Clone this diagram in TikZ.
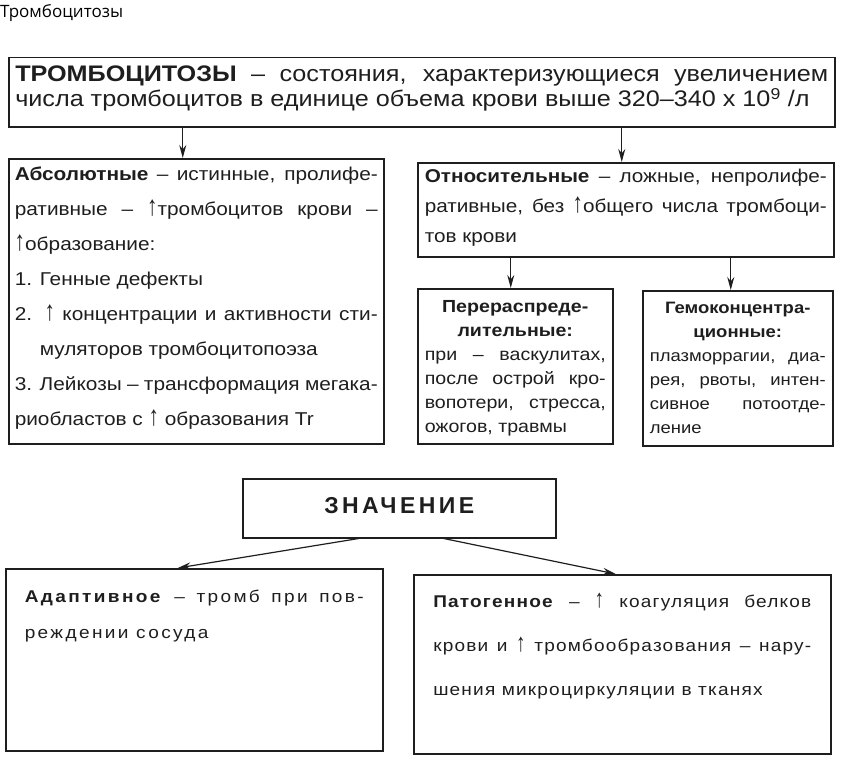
\documentclass[tikz,border=0pt]{standalone}
\usepackage{fontspec}
\usepackage{graphicx}
\setmainfont{Liberation Sans}
\newfontfamily\widefont[FakeStretch=1.12]{Liberation Sans}
\newfontfamily\headfont{Open Sans}
\usepackage{tikz}
\usetikzlibrary{arrows.meta, positioning}
\definecolor{inkcolor}{RGB}{30,30,30}
\newcommand{\upar}{\scalebox{1}[1.5]{↑}}

\begin{document}
\begin{tikzpicture}[x=1pt, y=-1pt,
  box/.style={rectangle, draw=inkcolor, line width=1.5pt, text=inkcolor,
              anchor=north west, inner ysep=0pt, align=justify},
  arrow/.style={-{Stealth[length=13pt, width=7pt]}, line width=1.2pt, draw=inkcolor}
]
\useasboundingbox (0,0) rectangle (845,768);

\node[anchor=base west, inner sep=0pt, font=\headfont\fontsize{17}{19}\selectfont]
  (title) at (0,18) {Тромбоцитозы};

\node[box, text width=813pt, inner xsep=6.5pt, text height=24pt, text depth=45pt,
      font=\widefont\fontsize{22.5}{25}\selectfont]
  (top) at (8,57)
  {\textbf{ТРОМБОЦИТОЗЫ} – состояния, характеризующиеся увеличением\linebreak
   числа тромбоцитов в единице объема крови выше 320–340 x 10\textsuperscript{9} /л};

\node[box, text width=363pt, inner xsep=6pt, text height=22pt, text depth=263pt,
      font=\widefont\fontsize{18.6}{35}\selectfont]
  (abs) at (8,158)
  {\textbf{Абсолютные} – истинные, пролифе-\linebreak
   ративные – \upar тромбоцитов крови –\linebreak
   \upar образование:\par
   1. Генные дефекты\par
   \hangindent=25pt\hangafter=1 2. \upar\ концентрации и активности сти-\linebreak
   муляторов тромбоцитопоэза\par
   \hangindent=25pt\hangafter=1 3. Лейкозы – трансформация мегака-\linebreak
   риобластов с \upar\ образования Tr};

\node[box, text width=402pt, inner xsep=7pt, text height=20pt, text depth=74pt,
      font=\widefont\fontsize{18.5}{30}\selectfont]
  (rel) at (417,162)
  {\textbf{Относительные} – ложные, непролифе-\linebreak
   ративные, без \upar общего числа тромбоци-\linebreak
   тов крови};

\node[box, text width=181pt, inner xsep=7pt, text height=24pt, text depth=131pt,
      font=\widefont\fontsize{17.5}{24}\selectfont]
  (redis) at (417,288)
  {{\centering\bfseries Перераспреде-\\лительные:\par}
   при – васкулитах,\linebreak
   после острой кро-\linebreak
   вопотери, стресса,\linebreak
   ожогов, травмы};

\node[box, text width=176pt, inner xsep=7pt, text height=23pt, text depth=132pt,
      font=\widefont\fontsize{16.5}{24}\selectfont]
  (hemo) at (642,290)
  {{\centering\bfseries Гемоконцентра-\\ционные:\par}
   плазморрагии, диа-\linebreak
   рея, рвоты, интен-\linebreak
   сивное потоотде-\linebreak
   ление};

\node[box, align=center, minimum width=313pt, text height=35pt, text depth=24pt,
      font=\bfseries\fontsize{23}{25}\selectfont\addfontfeature{LetterSpace=15}]
  (sig) at (242,478) {ЗНАЧЕНИЕ};

\node[box, text width=339pt, inner xsep=19pt, text height=34pt, text depth=148pt,
      font=\widefont\fontsize{17}{36}\selectfont\addfontfeature{LetterSpace=14}]
  (adapt) at (5,568)
  {\textbf{Адаптивное} – тромб при пов-\linebreak
   реждении сосуда};

\node[box, text width=378pt, inner xsep=19.5pt, text height=33pt, text depth=146pt,
      font=\widefont\fontsize{17}{44}\selectfont\addfontfeature{LetterSpace=7}]
  (patho) at (413,574)
  {\textbf{Патогенное} – \upar\ коагуляция белков\linebreak
   крови и \upar\ тромбообразования – нару-\linebreak
   шения микроциркуляции в тканях};

\draw[arrow] ([xshift=-13.5pt]top.south -| abs.north) -- ([xshift=-13.5pt]abs.north);
\draw[arrow] ([xshift=-4pt]top.south -| rel.north) -- ([xshift=-4pt]rel.north);
\draw[arrow] ([xshift=-4.5pt]rel.south -| redis.north) -- ([xshift=-4.5pt]redis.north);
\draw[arrow] ([xshift=-7pt]rel.south -| hemo.north) -- ([xshift=-7pt]hemo.north);
\draw[arrow] ([xshift=-40.5pt]sig.south) -- ([xshift=-16.5pt]adapt.north);
\draw[arrow] ([xshift=44.5pt]sig.south) -- ([xshift=-6.5pt]patho.north);

\end{tikzpicture}
\end{document}
